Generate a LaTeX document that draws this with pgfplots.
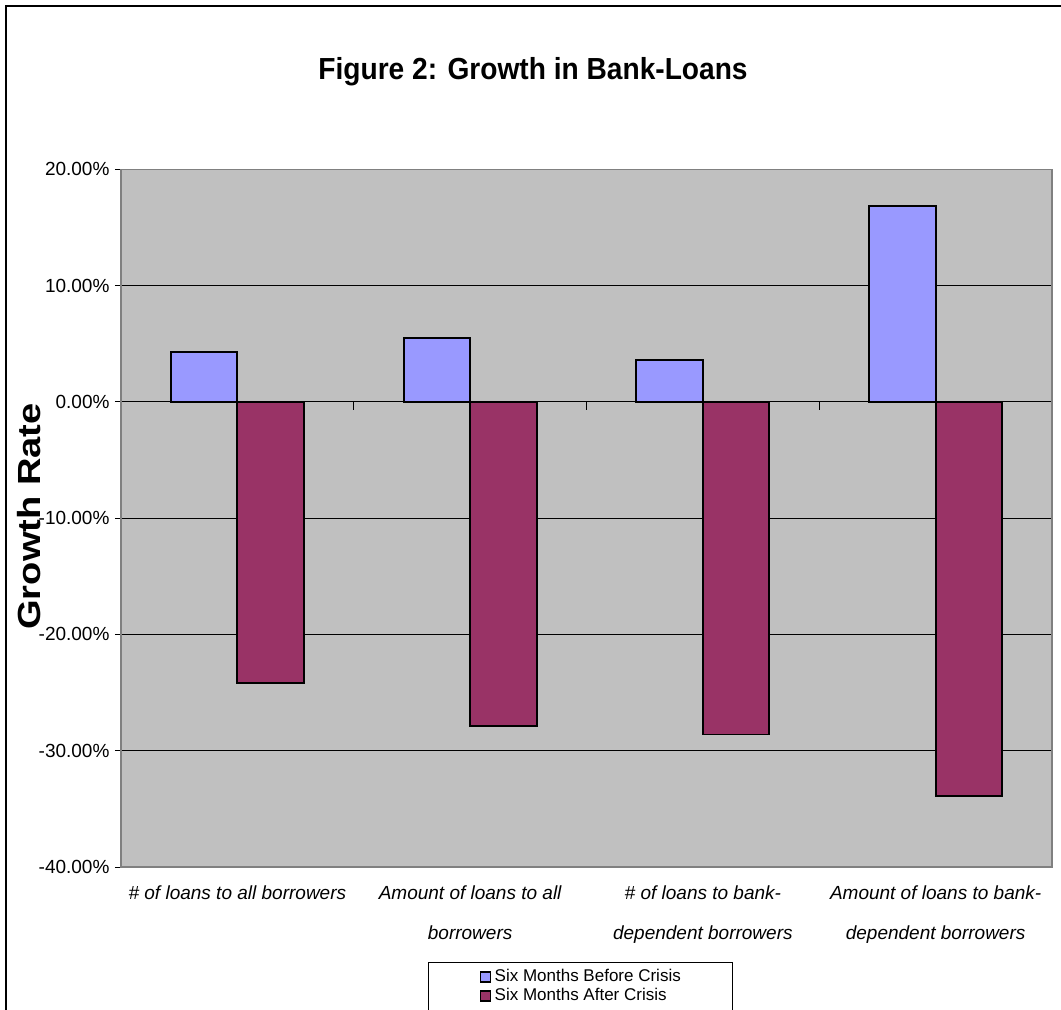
\documentclass[border=0pt]{standalone}
\usepackage{fontspec}
\setmainfont{Liberation Sans}
\usepackage{pgfplots}
\pgfplotsset{compat=1.18}
\definecolor{barblue}{HTML}{9999FF}
\definecolor{barred}{HTML}{993366}
\definecolor{plotbg}{HTML}{C0C0C0}
\definecolor{bordergray}{HTML}{808080}
\pgfplotsset{myleg/.style={legend image code/.code={\path[draw=none,fill=none] (0pt,0pt) -- (14pt,0pt); \draw[##1, line width=1.4pt] (0.5pt,-5pt) rectangle (10.5pt,5pt);}}}
\begin{document}
\begin{tikzpicture}[x=1pt,y=1pt]
\useasboundingbox (0,0) rectangle (1061,1010);
\draw[line width=1.5pt] (6,0) -- (6,1004) -- (1061,1004);
\node[font=\bfseries\fontsize{29}{32}\selectfont] at (533,938) {\scalebox{0.97}[1.05]{Figure 2: Growth in Bank-Loans}};
\node[rotate=90, font=\bfseries\fontsize{32}{36}\selectfont] at (29,493.5) {\scalebox{1.19}[1]{Growth Rate}};
\begin{axis}[
  at={(121pt,143pt)}, anchor=south west,
  scale only axis, width=931pt, height=697.7pt,
  ybar, ymin=-40, ymax=20, xmin=-0.5, xmax=3.5,
  axis background/.style={fill=plotbg},
  axis line style={draw=bordergray, line width=1.2pt},
  ymajorgrids, grid style={black, line width=0.9pt},
  ytick={-40,-30,-20,-10,0,10,20},
  yticklabels={-40.00\%,-30.00\%,-20.00\%,-10.00\%,0.00\%,10.00\%,20.00\%},
  yticklabel style={font=\fontsize{19}{22}\selectfont, xshift=-2pt},
  tick align=outside, major tick length=6pt,
  ytick style={black, line width=0.9pt},
  ytick pos=left,
  xtick={0,1,2,3}, xtick style={draw=none},
  xticklabels={{\# of loans to all borrowers},{Amount of loans to all\\borrowers},{\# of loans to bank-\\dependent borrowers},{Amount of loans to bank-\\dependent borrowers}},
  xticklabel style={align=center, font=\itshape\fontsize{19}{40}\selectfont, anchor=north, yshift=-9pt},
  legend style={at={(axis description cs:0.3298,-0.1361)}, anchor=north west, draw=black, line width=0.9pt, fill=white,
    inner xsep=51pt, inner ysep=5.5pt, font=\fontsize{17}{19}\selectfont,
    nodes={inner sep=1pt, text height=12.5pt, text depth=3.5pt}, row sep=1pt},
  legend cell align=left,
]
\addplot[fill=barblue, draw=black, line width=1.8pt, bar shift=-0.142857, bar width=0.285714, myleg]
  coordinates {(0,4.26) (1,5.52) (2,3.6) (3,16.85)};
\addplot[fill=barred, draw=black, line width=1.8pt, bar shift=0.142857, bar width=0.285714, myleg]
  coordinates {(0,-24.2) (1,-27.9) (2,-28.6) (3,-33.9)};
\legend{Six Months Before Crisis, Six Months After Crisis}
\draw[black, line width=0.9pt] (axis cs:0.5,0) -- ++(0pt,-8pt);
\draw[black, line width=0.9pt] (axis cs:1.5,0) -- ++(0pt,-8pt);
\draw[black, line width=0.9pt] (axis cs:2.5,0) -- ++(0pt,-8pt);
\end{axis}
\end{tikzpicture}
\end{document}
